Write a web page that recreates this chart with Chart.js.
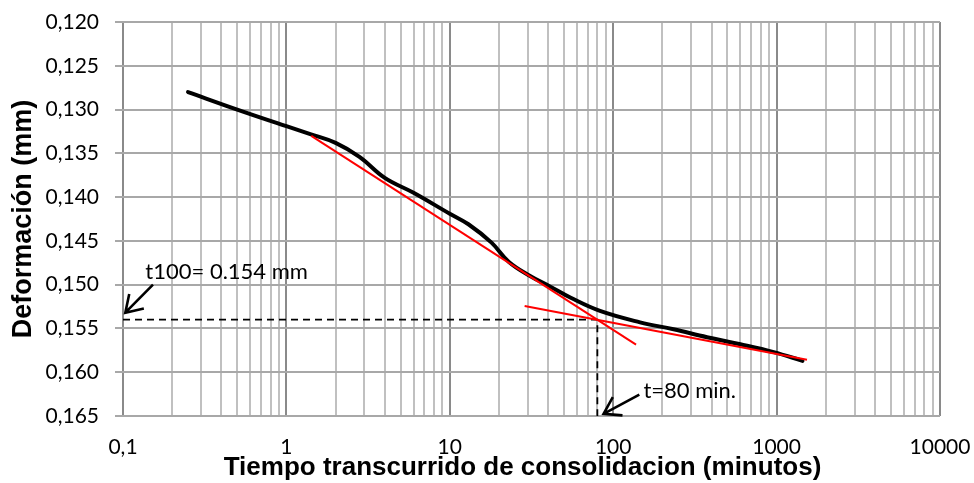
<!DOCTYPE html>
<html>
<head>
<meta charset="utf-8">
<script src="https://cdn.jsdelivr.net/npm/chart.js@4.4.0/dist/chart.umd.min.js"></script>
<style>
  html, body { margin: 0; padding: 0; background: #ffffff; }
  #wrap { width: 974px; height: 483px; }
</style>
</head>
<body>
<div id="wrap"><canvas id="c" width="974" height="483"></canvas></div>
<script>
// Consolidation reading: elapsed time (min) vs. dial deformation (mm)
const timeMin     = [0.25, 0.5, 1, 1.4, 2, 2.8, 4, 6, 10, 13, 18, 23, 31, 41, 55, 83, 146, 234, 375, 600, 960, 1440];
const deformation = [0.1280, 0.1300, 0.1319, 0.1328, 0.1338, 0.1354, 0.1378, 0.1395, 0.1419, 0.1431, 0.1452, 0.1474, 0.1490, 0.1502, 0.1515, 0.1530, 0.1543, 0.1551, 0.1560, 0.1568, 0.1577, 0.1587];

// Casagrande construction: primary-consolidation tangent and secondary-compression tangent
const tangentPrimaryT   = [1.42, 138];
const tangentPrimaryD   = [0.1330, 0.15685];
const tangentSecondaryT = [28.7, 1535];
const tangentSecondaryD = [0.15243, 0.15857];

// Reference lines for t100
const t100Value = 0.154;
const t100Time  = 80;

// Axis ticks
const decadeTicks  = [0.1, 1, 10, 100, 1000, 10000];
const decadeLabels = ['0,1', '1', '10', '100', '1000', '10000'];
const yTicks = [0.120, 0.125, 0.130, 0.135, 0.140, 0.145, 0.150, 0.155, 0.160, 0.165];

// Axis titles
const xTitle = 'Tiempo transcurrido de consolidacion (minutos)';
const yTitle = 'Deformación (mm)';

// Text callouts with their arrows (data coordinates)
const noteTexts  = ['t100= 0.154 mm', 't=80 min.'];
const noteAt     = [[0.137, 0.1485], [153, 0.1621]];
const arrowFrom  = [[0.1526, 0.1500], [144.5, 0.16257]];
const arrowTo    = [[0.1033, 0.1532], [87.3, 0.16475]];

const pts = (xs, ys) => xs.map((x, i) => ({ x: x, y: ys[i] }));

// minor log grid positions: 1..9 within each decade, plus the last decade line
const xGridValues = [];
for (let d = 0; d < decadeTicks.length - 1; d++) {
  for (let m = 1; m <= 9; m++) xGridValues.push(+(decadeTicks[d] * m).toPrecision(6));
}
xGridValues.push(decadeTicks[decadeTicks.length - 1]);

const isDecade = v => decadeTicks.some(d => Math.abs(d - v) / d < 1e-6);

const calloutPlugin = {
  id: 'callouts',
  afterDatasetsDraw(chart) {
    const { ctx, chartArea, scales: { x, y } } = chart;
    ctx.save();
    ctx.fillStyle = '#000';

    // x-axis title, sitting slightly left of the plot centre
    ctx.font = 'bold 26px "Liberation Sans"';
    ctx.textAlign = 'center';
    ctx.textBaseline = 'middle';
    ctx.fillText(xTitle, (chartArea.left + chartArea.right) / 2 - 9, 468);

    ctx.font = '22px Lato';
    ctx.textBaseline = 'middle';
    ctx.textAlign = 'left';
    noteTexts.forEach((t, i) => {
      ctx.fillText(t, x.getPixelForValue(noteAt[i][0]), y.getPixelForValue(noteAt[i][1]));
    });
    ctx.strokeStyle = '#000';
    ctx.lineWidth = 2.6;
    ctx.lineCap = 'butt';
    arrowFrom.forEach((f, i) => {
      const x1 = x.getPixelForValue(f[0]), y1 = y.getPixelForValue(f[1]);
      const x2 = x.getPixelForValue(arrowTo[i][0]), y2 = y.getPixelForValue(arrowTo[i][1]);
      const ang = Math.atan2(y1 - y2, x1 - x2);
      const len = 19, spread = Math.PI / 5.5;
      ctx.beginPath();
      ctx.moveTo(x1, y1);
      ctx.lineTo(x2, y2);
      ctx.moveTo(x2 + len * Math.cos(ang - spread), y2 + len * Math.sin(ang - spread));
      ctx.lineTo(x2, y2);
      ctx.lineTo(x2 + len * Math.cos(ang + spread), y2 + len * Math.sin(ang + spread));
      ctx.stroke();
    });
    ctx.restore();
  }
};

new Chart(document.getElementById('c'), {
  type: 'line',
  data: {
    datasets: [
      {
        data: pts(tangentPrimaryT, tangentPrimaryD),
        borderColor: '#ff0000', borderWidth: 2, pointRadius: 0, tension: 0
      },
      {
        data: pts(tangentSecondaryT, tangentSecondaryD),
        borderColor: '#ff0000', borderWidth: 2, pointRadius: 0, tension: 0
      },
      {
        data: pts(timeMin, deformation),
        borderColor: '#000000', borderWidth: 4, pointRadius: 0,
        tension: 0.4, borderCapStyle: 'round'
      },
      {
        data: [
          { x: decadeTicks[0], y: t100Value },
          { x: t100Time, y: t100Value },
          { x: t100Time, y: yTicks[yTicks.length - 1] }
        ],
        borderColor: '#000000', borderWidth: 1.8, borderDash: [7, 5],
        pointRadius: 0, tension: 0
      }
    ]
  },
  options: {
    responsive: false,
    animation: false,
    events: [],
    layout: { padding: { top: 22, right: 34, left: 0, bottom: 0 } },
    plugins: { legend: { display: false }, tooltip: { enabled: false } },
    scales: {
      x: {
        type: 'logarithmic',
        min: decadeTicks[0],
        max: decadeTicks[decadeTicks.length - 1],
        afterFit(s) { s.height = 67; s.paddingLeft = 0; s.paddingRight = 0; },
        afterBuildTicks(s) { s.ticks = xGridValues.map(v => ({ value: v })); },
        border: { display: false },
        grid: {
          drawTicks: false,
          lineWidth: 2,
          color: c => isDecade(c.tick.value) ? '#8a8a8a' : '#c0c0c0'
        },
        ticks: {
          autoSkip: false,
          maxRotation: 0,
          padding: 19,
          color: '#000',
          font: { family: 'Lato', size: 21 },
          callback: v => {
            const i = decadeTicks.findIndex(d => Math.abs(d - v) / d < 1e-6);
            return i >= 0 ? decadeLabels[i] : '';
          }
        },
        title: { display: false }
      },
      y: {
        type: 'linear',
        reverse: true,
        min: yTicks[0],
        max: yTicks[yTicks.length - 1],
        afterFit(s) { s.width = 123; s.paddingTop = 0; s.paddingBottom = 0; },
        afterBuildTicks(s) { s.ticks = yTicks.map(v => ({ value: v })); },
        border: { display: false },
        grid: { lineWidth: 2, color: '#a8a8a8', tickLength: 8 },
        ticks: {
          padding: 16,
          color: '#000',
          font: { family: 'Lato', size: 21 },
          callback: v => v.toFixed(3).replace('.', ',')
        },
        title: {
          display: true,
          text: yTitle,
          color: '#000',
          font: { family: 'Liberation Sans', size: 27, weight: 'bold' },
          padding: { top: 7, bottom: 0 }
        }
      }
    }
  },
  plugins: [calloutPlugin]
});
</script>
</body>
</html>
